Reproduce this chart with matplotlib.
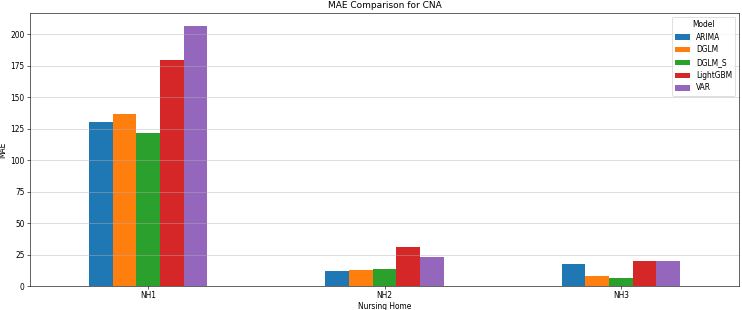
import matplotlib
matplotlib.use("Agg")
import matplotlib.pyplot as plt
import numpy as np

homes = ["NH1", "NH2", "NH3"]
models = ["ARIMA", "DGLM", "DGLM_S", "LightGBM", "VAR"]
arima = [130.4, 12.2, 17.2]
dglm = [136.4, 12.4, 7.7]
dglm_s = [121.3, 13.5, 6.4]
lightgbm = [179.6, 30.7, 20.1]
var = [206.4, 22.8, 19.6]
series = [arima, dglm, dglm_s, lightgbm, var]
colors = ["#1f77b4", "#ff7f0e", "#2ca02c", "#d62728", "#9467bd"]

DPI = 54
fig = plt.figure(figsize=(742/DPI, 310/DPI), dpi=DPI)
ax = fig.add_axes([30/742, 1-286/310, 709/742, 273/310])

x = np.arange(len(homes))
w = 0.1
n = len(models)
for i, (m, vals, c) in enumerate(zip(models, series, colors)):
    ax.bar(x + (i - (n-1)/2) * w, vals, w, label=m, color=c)

ax.set_xlim(-0.5, 2.5)
ax.set_xticks(x)
ax.set_xticklabels(homes)
ax.set_ylim(0, 216.8)
ax.set_yticks(np.arange(0, 201, 25))
ax.grid(axis='y', alpha=0.7)
ax.set_xlabel("Nursing Home", labelpad=2.5)
ax.set_ylabel("MAE")
ax.set_title("MAE Comparison for CNA")
ax.legend(title="Model", loc="upper right")
fig.savefig("out.png", dpi=DPI)
